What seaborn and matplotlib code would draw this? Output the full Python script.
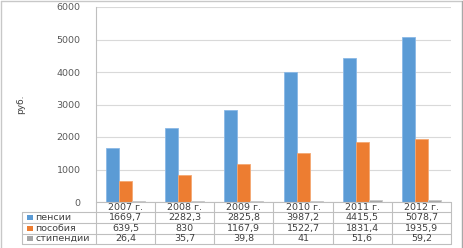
import matplotlib
matplotlib.use("Agg")
import matplotlib.pyplot as plt
import matplotlib.transforms as mtransforms
from matplotlib.patches import Rectangle
from matplotlib.lines import Line2D
import pandas as pd
import seaborn as sns

years = ["2007 г.", "2008 г.", "2009 г.", "2010 г.", "2011 г.", "2012 г."]
series_names = ["пенсии", "пособия", "стипендии"]
pensii = [1669.7, 2282.3, 2825.8, 3987.2, 4415.5, 5078.7]
posobiya = [639.5, 830, 1167.9, 1522.7, 1831.4, 1935.9]
stipendii = [26.4, 35.7, 39.8, 41, 51.6, 59.2]
colors = ["#5B9BD5", "#ED7D31", "#A5A5A5"]

values = [pensii, posobiya, stipendii]
rows = []
for name, vals in zip(series_names, values):
    for y, v in zip(years, vals):
        rows.append({"year": y, "series": name, "value": v})
df = pd.DataFrame(rows)

sns.set_theme(style="white")
plt.rcParams["font.family"] = ["DejaVu Sans"]

W, H = 464, 248
fig = plt.figure(figsize=(W / 100, H / 100), dpi=100)
ax = fig.add_axes([96 / W, 1 - 202 / H, 355 / W, 195 / H])

sns.barplot(data=df, x="year", y="value", hue="series", order=years,
            hue_order=series_names, palette=colors, width=0.66, saturation=1,
            ax=ax, legend=False, linewidth=0.6)
for cont, ec in zip(ax.containers, ["#8AB8E6", "#F4A873", "#C9C9C9"]):
    for p in cont:
        p.set_edgecolor(ec)

ax.set_xlim(-0.5, 5.5)
ax.set_ylim(0, 6000)
ax.set_yticks(range(0, 6001, 1000))
ax.tick_params(axis="y", labelsize=6.8, colors="#595959", length=0, pad=11)
ax.set_xticks([])
ax.set_xlabel("")
ax.set_ylabel("руб.", fontsize=6.5, color="#404040")
ax.yaxis.set_label_coords(-0.2, 0.5)
ax.grid(axis="y", color="#D9D9D9", linewidth=0.8)
ax.set_axisbelow(True)
for s in ["top", "right", "bottom"]:
    ax.spines[s].set_visible(False)
ax.spines["left"].set_color("#BFBFBF")
ax.spines["left"].set_linewidth(0.8)

# data table
tr = mtransforms.blended_transform_factory(ax.transData, ax.transAxes)
lc = "#BFBFBF"
row_edges = [0, -0.052, -0.106, -0.162, -0.214]
x_left = -1.75
x_cols = [-0.5 + i for i in range(7)]
lw = 0.8
ax.plot([-0.5, 5.5], [row_edges[0]] * 2, transform=tr, color=lc, lw=lw, clip_on=False)
for r in row_edges[1:]:
    ax.plot([x_left, 5.5], [r, r], transform=tr, color=lc, lw=lw, clip_on=False)
for xc in x_cols:
    ax.plot([xc, xc], [row_edges[0], row_edges[-1]], transform=tr, color=lc, lw=lw, clip_on=False)
ax.plot([x_left, x_left], [row_edges[1], row_edges[-1]], transform=tr, color=lc, lw=lw, clip_on=False)

tc = "#404040"
fs = 6.8
for i, y in enumerate(years):
    ax.text(i, (row_edges[0] + row_edges[1]) / 2, y, transform=tr, ha="center",
            va="center", fontsize=fs, color=tc, clip_on=False)

def fmt(v):
    return f"{v:g}".replace(".", ",")

for r, (name, vals, col) in enumerate(zip(series_names, values, colors)):
    yc = (row_edges[r + 1] + row_edges[r + 2]) / 2
    ax.add_patch(Rectangle((x_left + 0.09, yc - 0.013), 0.1, 0.026, transform=tr,
                           facecolor=col, edgecolor="none", clip_on=False))
    ax.text(x_left + 0.22, yc, name, transform=tr, ha="left", va="center",
            fontsize=fs, color=tc, clip_on=False)
    for i, v in enumerate(vals):
        ax.text(i, yc, fmt(v), transform=tr, ha="center", va="center",
                fontsize=fs, color=tc, clip_on=False)

# outer chart border (top, left, right)
bc = "#C8C8C8"
fig.add_artist(Line2D([0.5 / W, 0.5 / W], [0, 1 - 0.5 / H], transform=fig.transFigure, color=bc, lw=1))
fig.add_artist(Line2D([0.5 / W, 462.5 / W], [1 - 0.5 / H, 1 - 0.5 / H], transform=fig.transFigure, color=bc, lw=1))
fig.add_artist(Line2D([462.5 / W, 462.5 / W], [0, 1 - 0.5 / H], transform=fig.transFigure, color="#A8A8A8", lw=1))

fig.savefig("out.png", dpi=100)
